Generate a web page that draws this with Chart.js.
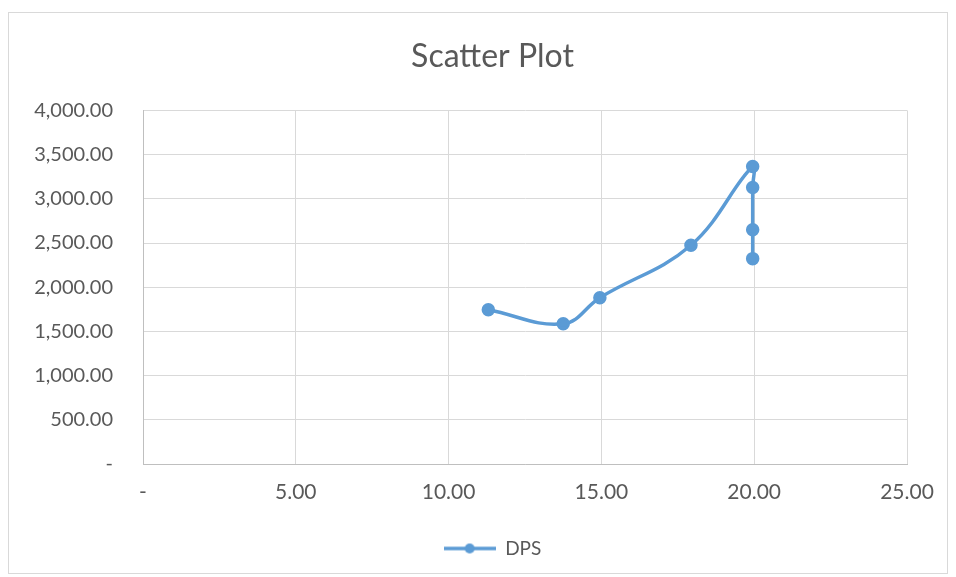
<!DOCTYPE html>
<html>
<head>
<meta charset="utf-8">
<script src="https://cdn.jsdelivr.net/npm/chart.js@4"></script>
<style>
  html, body { margin: 0; padding: 0; background: #fff; }
  #wrap { position: relative; width: 956px; height: 577px; }
  #frame { position: absolute; left: 8px; top: 12px; width: 940px; height: 562px; border: 1px solid #d9d9d9; box-sizing: border-box; }
  canvas { position: absolute; left: 0; top: 0; }
</style>
</head>
<body>
<div id="wrap">
  <div id="frame"></div>
  <canvas id="chart" width="956" height="577"></canvas>
</div>
<script>
// DPS data
const seriesName = "DPS";
const xValues = [11.3, 13.75, 14.95, 17.93, 19.95, 19.95, 19.95, 19.95];
const yValues = [1745, 1586, 1881, 2475, 3365, 3127, 2651, 2323];
const xTicks = [0, 5, 10, 15, 20, 25];
const yTicks = [0, 500, 1000, 1500, 2000, 2500, 3000, 3500, 4000];

const lineColor = "#5b9bd5";
const textColor = "#595959";
const gridColor = "#d9d9d9";
const fontFamily = "Lato, 'Open Sans', sans-serif";

// number format like Excel's accounting style: 0 shows as "-"
function fmt(v) {
    if (v === 0) return "-";
    return v.toLocaleString("en-US", { minimumFractionDigits: 2, maximumFractionDigits: 2 });
}

// legend marker: a line with a dot in the middle
const marker = document.createElement("canvas");
marker.width = 52;
marker.height = 12;
const mctx = marker.getContext("2d");
mctx.strokeStyle = lineColor;
mctx.lineWidth = 3.5;
mctx.beginPath();
mctx.moveTo(0, 6);
mctx.lineTo(52, 6);
mctx.stroke();
mctx.fillStyle = lineColor;
mctx.beginPath();
mctx.arc(26, 6, 5, 0, Math.PI * 2);
mctx.fill();

// Excel centres title and legend a bit further right than chart.js does
const centreShift = {
    id: "centreShift",
    afterLayout(chart) {
        chart.titleBlock.left += 68;
        chart.legend.left += 68;
    }
};

const points = xValues.map((x, i) => ({ x: x, y: yValues[i] }));

new Chart(document.getElementById("chart"), {
    type: "scatter",
    data: {
        datasets: [{
            label: seriesName,
            data: points,
            showLine: true,
            tension: 0.4,
            borderColor: lineColor,
            backgroundColor: lineColor,
            borderWidth: 3.5,
            pointRadius: 5,
            pointHoverRadius: 5,
            pointStyle: "circle"
        }]
    },
    plugins: [centreShift],
    options: {
        responsive: false,
        animation: false,
        layout: { padding: { left: 10, right: 49, top: 12, bottom: 9 } },
        plugins: {
            title: {
                display: true,
                text: "Scatter Plot",
                color: textColor,
                font: { family: fontFamily, size: 32, weight: "normal" },
                padding: { top: 25, bottom: 35 }
            },
            legend: {
                position: "bottom",
                labels: {
                    color: textColor,
                    font: { family: fontFamily, size: 19 },
                    usePointStyle: true,
                    pointStyle: marker,
                    pointStyleWidth: 52,
                    padding: 15
                }
            },
            tooltip: { enabled: false }
        },
        scales: {
            x: {
                type: "linear",
                min: 0,
                max: 25,
                afterBuildTicks: axis => { axis.ticks = xTicks.map(v => ({ value: v })); },
                afterFit: axis => { axis.height = 60; },
                ticks: {
                    color: textColor,
                    font: { family: fontFamily, size: 21 },
                    padding: 16,
                    maxRotation: 0,
                    callback: v => fmt(v)
                },
                grid: { color: gridColor, drawTicks: false },
                border: { color: "#bfbfbf" }
            },
            y: {
                type: "linear",
                min: 0,
                max: 4000,
                afterBuildTicks: axis => { axis.ticks = yTicks.map(v => ({ value: v })); },
                afterFit: axis => { axis.width = 133; },
                ticks: {
                    color: textColor,
                    font: { family: fontFamily, size: 20 },
                    padding: 30,
                    callback: v => fmt(v)
                },
                grid: { color: gridColor, drawTicks: false },
                border: { color: "#bfbfbf" }
            }
        }
    }
});
</script>
</body>
</html>
